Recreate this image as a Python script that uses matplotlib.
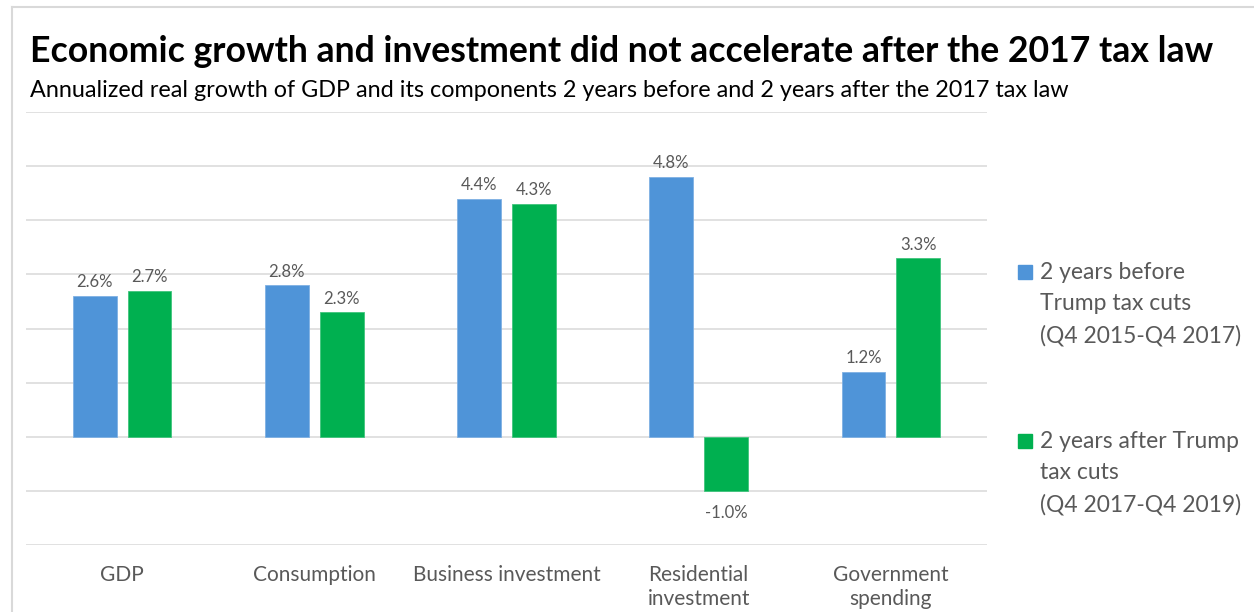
import matplotlib.pyplot as plt
from matplotlib.lines import Line2D
from matplotlib.patches import Rectangle
import numpy as np

categories = ["GDP", "Consumption", "Business investment",
              "Residential\ninvestment", "Government\nspending"]
before = [2.6, 2.8, 4.4, 4.8, 1.2]
after = [2.7, 2.3, 4.3, -1.0, 3.3]
series_labels = ["2 years before\nTrump tax cuts\n(Q4 2015-Q4 2017)",
                 "2 years after Trump\ntax cuts\n(Q4 2017-Q4 2019)"]
colors = ["#4f94d8", "#00b050"]
yticks = [-2, -1, 0, 1, 2, 3, 4, 5, 6]

title = "Economic growth and investment did not accelerate after the 2017 tax law"
subtitle = ("Annualized real growth of GDP and its components 2 years before "
            "and 2 years after the 2017 tax law")

plt.rcParams['font.family'] = ['Lato', 'DejaVu Sans']
gray = "#595959"

fig = plt.figure(figsize=(12.54, 6.12), dpi=100)
W, H = 1254, 612


def fit_text(x, y, s, width_px, size, **kw):
    # shrink/grow the font so the string spans the given pixel width
    t = fig.text(x, y, s, fontsize=size, **kw)
    r = fig.canvas.get_renderer()
    w = t.get_window_extent(r).width
    t.set_fontsize(size * width_px / w)
    return t


fit_text(30 / W, 1 - 62 / H, title, 1187, 24, fontweight='bold',
         color='black', va='baseline')
fit_text(30 / W, 1 - 97 / H, subtitle, 1040, 14, color='black',
         va='baseline')

# frame lines around the chart area
fig.add_artist(Line2D([12 / W, 1], [1 - 7 / H, 1 - 7 / H],
                      color='#d9d9d9', lw=1.5))
fig.add_artist(Line2D([12 / W, 12 / W], [0, 1 - 7 / H],
                      color='#d9d9d9', lw=1.5))

ax = fig.add_axes([26 / W, 1 - 545 / H, (987 - 26) / W, (545 - 112) / H])
x = np.arange(len(categories))
width = 0.228
offset = 0.143
bars_b = ax.bar(x - offset, before, width, color=colors[0],
                edgecolor='#7fb0e3', linewidth=0.6, zorder=3)
bars_a = ax.bar(x + offset, after, width, color=colors[1],
                edgecolor='#40c47c', linewidth=0.6, zorder=3)

for bars, vals in [(bars_b, before), (bars_a, after)]:
    for b, v in zip(bars, vals):
        cx = b.get_x() + b.get_width() / 2
        if v >= 0:
            ax.annotate(f"{v:.1f}%", (cx, v), xytext=(0, 4),
                        textcoords='offset points', ha='center', va='bottom',
                        fontsize=12, color=gray)
        else:
            ax.annotate(f"{v:.1f}%", (cx, v), xytext=(0, -10),
                        textcoords='offset points', ha='center', va='top',
                        fontsize=12, color=gray)

ax.set_xlim(-0.5, len(categories) - 0.5)
ax.set_ylim(-2, 6)
ax.set_yticks(yticks)
ax.grid(axis='y', color='#d9d9d9', linewidth=1.1, zorder=0)
ax.tick_params(axis='y', left=False, labelleft=False)
ax.tick_params(axis='x', bottom=False, pad=11, labelsize=15, labelcolor=gray)
ax.set_xticks(x)
ax.set_xticklabels(categories, linespacing=1.25, va='top')
for s in ax.spines.values():
    s.set_visible(False)

# legend drawn by hand so the marker sits beside the first line
legend_y = [272, 441]
for c, lab, yy in zip(colors, series_labels, legend_y):
    fig.patches.append(Rectangle((1018 / W, 1 - (yy + 7) / H), 14 / W, 14 / H,
                                 color=c, transform=fig.transFigure))
    fig.text(1040 / W, 1 - (yy - 10) / H, lab, fontsize=16.5, color=gray,
             va='top', ha='left', linespacing=1.6)

fig.savefig("out.png", dpi=100)
